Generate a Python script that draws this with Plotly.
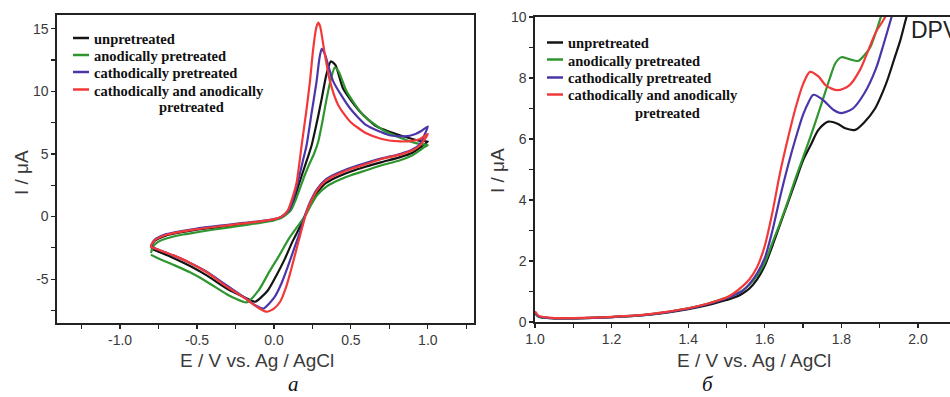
import plotly.graph_objects as go

W, H = 950, 397

# ---------------- CV data (panel a) ----------------
series_names = ["unpretreated", "anodically pretreated", "cathodically pretreated",
                "cathodically and anodically"]
series_colors = ["#141414", "#2f962f", "#4a36a8", "#f2393a"]

cv_black_fwd_E = [-0.80, -0.78, -0.75, -0.70, -0.60, -0.50, -0.40, -0.30, -0.20, -0.10, 0.00, 0.05, 0.10, 0.13,
                  0.16, 0.20, 0.245, 0.28, 0.31, 0.34, 0.37, 0.40, 0.45, 0.558, 0.667, 0.818, 0.90, 0.95, 1.00]
cv_black_fwd_I = [-2.45, -2.0, -1.75, -1.5, -1.25, -1.05, -0.9, -0.75, -0.6, -0.45, -0.25, 0.0, 0.5, 1.3,
                  2.5, 4.0, 5.7, 7.6, 9.4, 11.3, 12.4, 12.1, 10.2, 8.4, 7.2, 6.5, 6.2, 6.05, 6.0]
cv_black_rev_E = [0.97, 0.95, 0.90, 0.82, 0.70, 0.60, 0.50, 0.40, 0.33, 0.28, 0.24, 0.21, 0.17, 0.12, 0.07,
                  0.02, -0.04, -0.123, -0.20, -0.307, -0.437, -0.545, -0.654, -0.75, -0.80]
cv_black_rev_I = [5.7, 5.5, 5.1, 4.75, 4.35, 4.0, 3.6, 3.1, 2.6, 1.9, 1.1, 0.3, -0.8, -2.0, -3.4,
                  -4.6, -5.9, -6.8, -6.4, -5.75, -4.7, -3.95, -3.3, -2.8, -2.55]

cv_green_fwd_E = [-0.80, -0.78, -0.75, -0.70, -0.60, -0.50, -0.40, -0.30, -0.20, -0.10, 0.00, 0.05, 0.11, 0.14,
                  0.17, 0.20, 0.23, 0.26, 0.288, 0.315, 0.342, 0.37, 0.395, 0.42, 0.472, 0.58, 0.71, 0.82, 0.90,
                  0.95, 1.00]
cv_green_fwd_I = [-2.9, -2.3, -2.0, -1.75, -1.45, -1.25, -1.05, -0.88, -0.7, -0.52, -0.3, -0.1, 0.5, 1.3,
                  2.3, 3.3, 4.2, 5.0, 6.0, 7.6, 9.4, 11.0, 11.9, 11.6, 10.0, 8.1, 6.9, 6.3, 5.95,
                  5.8, 5.7]
cv_green_rev_E = [0.97, 0.95, 0.90, 0.82, 0.70, 0.60, 0.50, 0.40, 0.33, 0.28, 0.24, 0.21, 0.17, 0.10, 0.03,
                  -0.03, -0.10, -0.177, -0.25, -0.307, -0.437, -0.545, -0.654, -0.75, -0.80]
cv_green_rev_I = [5.5, 5.3, 4.9, 4.5, 4.1, 3.7, 3.3, 2.8, 2.3, 1.7, 0.9, 0.2, -0.5, -1.7, -3.2,
                  -4.4, -5.9, -6.85, -6.55, -6.2, -5.2, -4.45, -3.85, -3.35, -3.05]

cv_blue_fwd_E = [-0.80, -0.78, -0.75, -0.70, -0.60, -0.50, -0.40, -0.30, -0.20, -0.10, 0.00, 0.05, 0.10, 0.13,
                 0.154, 0.185, 0.212, 0.245, 0.277, 0.295, 0.31, 0.33, 0.385, 0.494, 0.60, 0.75, 0.85, 0.92,
                 0.96, 1.00]
cv_blue_fwd_I = [-2.35, -1.9, -1.65, -1.4, -1.15, -0.95, -0.8, -0.65, -0.5, -0.38, -0.2, 0.0, 0.55, 1.6,
                 2.7, 4.3, 5.7, 8.3, 10.8, 12.6, 13.4, 13.0, 10.8, 8.65, 7.3, 6.5, 6.4, 6.6,
                 6.85, 7.2]
cv_blue_rev_E = [0.97, 0.95, 0.90, 0.82, 0.70, 0.60, 0.50, 0.40, 0.33, 0.28, 0.24, 0.21, 0.17, 0.13, 0.09,
                 0.05, 0.00, -0.069, -0.12, -0.20, -0.307, -0.437, -0.545, -0.654, -0.75, -0.80]
cv_blue_rev_I = [6.3, 5.8, 5.35, 5.0, 4.65, 4.3, 3.9, 3.4, 2.9, 2.2, 1.3, 0.4, -1.2, -2.6, -4.0,
                 -5.3, -6.5, -7.35, -7.1, -6.4, -5.5, -4.4, -3.7, -3.1, -2.65, -2.4]

cv_red_fwd_E = [-0.80, -0.78, -0.75, -0.70, -0.60, -0.50, -0.40, -0.30, -0.20, -0.10, 0.00, 0.05, 0.09, 0.12,
                0.147, 0.18, 0.21, 0.234, 0.255, 0.275, 0.288, 0.30, 0.33, 0.364, 0.418, 0.494, 0.60, 0.70,
                0.82, 0.90, 0.95, 1.00]
cv_red_fwd_I = [-2.4, -1.95, -1.7, -1.45, -1.2, -1.0, -0.85, -0.7, -0.55, -0.4, -0.2, 0.0, 0.5, 1.5,
                2.7, 5.7, 8.4, 10.8, 13.4, 15.1, 15.5, 15.2, 13.0, 10.8, 8.9, 7.6, 6.65, 6.2,
                6.0, 6.05, 6.2, 6.6]
cv_red_rev_E = [0.97, 0.95, 0.90, 0.82, 0.70, 0.60, 0.50, 0.40, 0.33, 0.28, 0.24, 0.21, 0.17, 0.14, 0.11,
                0.08, 0.04, 0.00, -0.047, -0.10, -0.18, -0.307, -0.437, -0.545, -0.654, -0.75, -0.80]
cv_red_rev_I = [6.0, 5.7, 5.3, 4.95, 4.6, 4.2, 3.8, 3.3, 2.8, 2.1, 1.2, 0.3, -1.5, -2.9, -4.3,
                -5.6, -6.8, -7.35, -7.6, -7.3, -6.6, -5.6, -4.45, -3.7, -3.1, -2.65, -2.4]

cv_xticks = [-1.0, -0.5, 0.0, 0.5, 1.0]
cv_xticklabels = ["-1.0", "-0.5", "0.0", "0.5", "1.0"]
cv_yticks = [-5, 0, 5, 10, 15]
cv_yticklabels = ["-5", "0", "5", "10", "15"]

# ---------------- DPV data (panel б) ----------------
dpv_black_E = [1.0, 1.01, 1.05, 1.1, 1.2, 1.3, 1.4, 1.45, 1.5, 1.52, 1.54, 1.56, 1.58, 1.6, 1.62, 1.64, 1.66,
               1.68, 1.70, 1.72, 1.74, 1.766, 1.79, 1.81, 1.836, 1.86, 1.888, 1.91, 1.922, 1.94, 1.953, 1.97,
               1.98]
dpv_black_I = [0.3, 0.17, 0.12, 0.12, 0.16, 0.24, 0.42, 0.55, 0.72, 0.8, 0.92, 1.1, 1.4, 1.85, 2.5, 3.2, 3.9,
               4.6, 5.3, 5.8, 6.3, 6.57, 6.5, 6.35, 6.3, 6.55, 7.0, 7.6, 8.0, 8.7, 9.2, 10.0,
               10.4]
dpv_green_E = [1.0, 1.01, 1.05, 1.1, 1.2, 1.3, 1.4, 1.45, 1.5, 1.52, 1.54, 1.56, 1.58, 1.6, 1.62, 1.64, 1.66,
               1.68, 1.70, 1.72, 1.744, 1.77, 1.785, 1.80, 1.82, 1.844, 1.86, 1.875, 1.89, 1.903, 1.91]
dpv_green_I = [0.3, 0.17, 0.12, 0.12, 0.16, 0.25, 0.45, 0.6, 0.8, 0.9, 1.02, 1.22, 1.52, 1.95, 2.6, 3.25, 3.95,
               4.7, 5.4, 6.1, 7.0, 8.0, 8.5, 8.68, 8.62, 8.56, 8.75, 9.0, 9.5, 10.0, 10.3]
dpv_blue_E = [1.0, 1.01, 1.05, 1.1, 1.2, 1.3, 1.4, 1.45, 1.5, 1.52, 1.54, 1.56, 1.58, 1.6, 1.62, 1.64, 1.66,
              1.68, 1.70, 1.714, 1.727, 1.75, 1.78, 1.80, 1.83, 1.86, 1.89, 1.91, 1.931, 1.94]
dpv_blue_I = [0.3, 0.18, 0.12, 0.12, 0.16, 0.25, 0.44, 0.58, 0.78, 0.88, 1.0, 1.25, 1.6, 2.1, 3.0, 4.1, 5.1,
              6.0, 6.8, 7.2, 7.45, 7.3, 6.95, 6.85, 7.0, 7.5, 8.3, 9.1, 10.0, 10.4]
dpv_red_E = [1.0, 1.01, 1.05, 1.1, 1.2, 1.3, 1.4, 1.45, 1.5, 1.52, 1.54, 1.56, 1.58, 1.6, 1.62, 1.64, 1.66,
             1.68, 1.70, 1.718, 1.74, 1.76, 1.79, 1.82, 1.85, 1.87, 1.89, 1.914, 1.92]
dpv_red_I = [0.35, 0.2, 0.13, 0.13, 0.17, 0.26, 0.45, 0.6, 0.8, 0.95, 1.15, 1.4, 1.8, 2.5, 3.6, 4.9, 6.0,
             7.0, 7.8, 8.2, 8.05, 7.75, 7.6, 7.75, 8.3, 8.9, 9.5, 10.0, 10.3]

dpv_xticks = [1.0, 1.2, 1.4, 1.6, 1.8, 2.0]
dpv_xticklabels = ["1.0", "1.2", "1.4", "1.6", "1.8", "2.0"]
dpv_yticks = [0, 2, 4, 6, 8, 10]
dpv_yticklabels = ["0", "2", "4", "6", "8", "10"]

cv_series = [(cv_black_fwd_E + cv_black_rev_E, cv_black_fwd_I + cv_black_rev_I),
             (cv_green_fwd_E + cv_green_rev_E, cv_green_fwd_I + cv_green_rev_I),
             (cv_blue_fwd_E + cv_blue_rev_E, cv_blue_fwd_I + cv_blue_rev_I),
             (cv_red_fwd_E + cv_red_rev_E, cv_red_fwd_I + cv_red_rev_I)]
dpv_series = [(dpv_black_E, dpv_black_I), (dpv_green_E, dpv_green_I),
              (dpv_blue_E, dpv_blue_I), (dpv_red_E, dpv_red_I)]


def px(x):
    return x / W


def py(y):
    return 1 - y / H


fig = go.Figure()
for (xs, ys), name, col in zip(cv_series, series_names, series_colors):
    fig.add_trace(go.Scatter(x=xs, y=ys, mode="lines", name=name, showlegend=False, hoverinfo="skip",
                             line=dict(color=col, width=2.2, shape="spline", smoothing=0.6),
                             xaxis="x", yaxis="y"))
for (xs, ys), name, col in zip(dpv_series, series_names, series_colors):
    fig.add_trace(go.Scatter(x=xs, y=ys, mode="lines", name=name, showlegend=False, hoverinfo="skip",
                             line=dict(color=col, width=2.2, shape="spline", smoothing=0.8),
                             xaxis="x2", yaxis="y2"))

tickfont = dict(family="Arial, Liberation Sans, sans-serif", size=14, color="#3a3a3a")
axis_common = dict(showgrid=False, zeroline=False, showline=True, linecolor="#222222", linewidth=1.6,
                   ticks="outside", ticklen=4, tickwidth=1.2, tickcolor="#222222", tickfont=tickfont,
                   automargin=False)

fig.update_layout(
    template=None,
    width=W, height=H, margin=dict(l=0, r=0, t=0, b=0, pad=0, autoexpand=False),
    paper_bgcolor="white", plot_bgcolor="white",
    xaxis=dict(domain=[px(57), px(474)], range=[-1.41, 1.30], anchor="y", mirror=True,
               tickmode="array", tickvals=cv_xticks, ticktext=cv_xticklabels,
               minor=dict(dtick=0.25, tick0=0, ticks="outside", ticklen=4, tickcolor="#222222", showgrid=False),
               **axis_common),
    yaxis=dict(domain=[py(323), py(15)], range=[-8.5, 16.1], anchor="x", mirror=True,
               tickmode="array", tickvals=cv_yticks, ticktext=cv_yticklabels,
               minor=dict(dtick=2.5, tick0=0, ticks="outside", ticklen=4, tickcolor="#222222", showgrid=False),
               **axis_common),
    xaxis2=dict(domain=[px(535), 1.0], range=[1.0, 2.0836], anchor="y2", mirror=True,
                tickmode="array", tickvals=dpv_xticks, ticktext=dpv_xticklabels,
                minor=dict(dtick=0.1, tick0=1.0, ticks="outside", ticklen=4, tickcolor="#222222", showgrid=False),
                **axis_common),
    yaxis2=dict(domain=[py(322), py(17)], range=[0, 10], anchor="x2",
                tickmode="array", tickvals=dpv_yticks, ticktext=dpv_yticklabels,
                minor=dict(dtick=1, tick0=0, ticks="outside", ticklen=4, tickcolor="#222222", showgrid=False),
                **axis_common),
)

title_font = dict(family="Arial, Liberation Sans, sans-serif", size=19, color="#3a3a3a")
serif_bold = dict(family="Times New Roman, Liberation Serif, serif", size=14.5, color="#111111")
sub_font = dict(family="Times New Roman, Liberation Serif, serif", size=21, color="#111111")
annotations = [
    dict(text="E / V vs. Ag / AgCl", x=px(257), y=py(360), font=title_font),
    dict(text="E / V vs. Ag / AgCl", x=px(754), y=py(360), font=title_font),
    dict(text="I / μA", x=px(21), y=py(173), textangle=-90, font=title_font),
    dict(text="I / μA", x=px(498), y=py(171), textangle=-90, font=title_font),
    dict(text="<i>a</i>", x=px(293), y=py(384), font=sub_font),
    dict(text="<i>б</i>", x=px(708), y=py(384), font=sub_font),
    dict(text="DPV", x=px(909), y=py(30), xanchor="left",
         font=dict(family="Arial, Liberation Sans, sans-serif", size=23, color="#222222")),
]

shapes = []
legend_panels = [
    dict(sw_x0=73, sw_x1=89, tx=91.5, rows=[39, 56, 73, 90.5], second=107, second_x=191),
    dict(sw_x0=547, sw_x1=563, tx=566, rows=[43.5, 60.5, 78.5, 95.5], second=112.5, second_x=667),
]
for lp in legend_panels:
    for name, col, ry in zip(series_names, series_colors, lp["rows"]):
        shapes.append(dict(type="line", xref="paper", yref="paper", x0=px(lp["sw_x0"]), x1=px(lp["sw_x1"]),
                           y0=py(ry - 1), y1=py(ry - 1), line=dict(color=col, width=2.5)))
        annotations.append(dict(text="<b>%s</b>" % name, x=px(lp["tx"]), y=py(ry), xanchor="left",
                                font=serif_bold))
    annotations.append(dict(text="<b>pretreated</b>", x=px(lp["second_x"]), y=py(lp["second"]),
                            xanchor="center", font=serif_bold))

for a in annotations:
    a.setdefault("xref", "paper")
    a.setdefault("yref", "paper")
    a.setdefault("showarrow", False)
    a.setdefault("xanchor", "center")
    a.setdefault("yanchor", "middle")

fig.update_layout(annotations=annotations, shapes=shapes)
fig.write_html("out.html", config={"displayModeBar": False, "staticPlot": True},
               post_script="document.body.style.margin='0';document.body.style.overflow='hidden';")
